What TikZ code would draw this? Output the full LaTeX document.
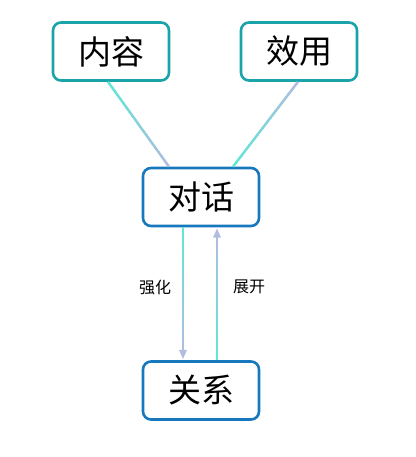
\documentclass[tikz,border=0pt]{standalone}
\usepackage{fontspec}
\setmainfont{Noto Sans CJK SC}
\usetikzlibrary{calc,arrows.meta}
\definecolor{turq}{HTML}{5EE8D6}
\definecolor{lav}{HTML}{B0BCE0}
\definecolor{tealb}{HTML}{1AA3A8}
\definecolor{blueb}{HTML}{1878BE}
\tikzset{
  box/.style={draw, line width=2.6pt, rounded corners=8pt, fill=white, minimum width=116pt, minimum height=58pt, inner sep=0pt, font=\fontsize{33}{35}\selectfont},
  topbox/.style={box, draw=tealb},
  midbox/.style={box, draw=blueb},
  lbl/.style={font=\fontsize{16}{18}\selectfont, text=black},
}
\newcommand{\gradline}[2]{%
  \foreach \i in {0,...,39}{%
    \pgfmathsetmacro{\ta}{\i/40}%
    \pgfmathsetmacro{\tb}{(\i+1.3)/40 > 1 ? 1 : (\i+1.3)/40}%
    \pgfmathsetmacro{\pc}{100-\i*100/39}%
    \draw[line width=2.4pt, color=turq!\pc!lav, line cap=butt] ($(#1)!\ta!(#2)$) -- ($(#1)!\tb!(#2)$);
  }%
}
\begin{document}
\begin{tikzpicture}[x=1pt,y=-1pt]
\useasboundingbox (0,0) rectangle (415,457);
\node[topbox] (nr) at (111,51.5) {内容};
\node[topbox] (xy) at (299,51.5) {效用};
\node[midbox] (dh) at (201,197) {对话};
\node[midbox] (gx) at (201,390.5) {关系};
% connectors
\coordinate (a1) at ($(nr.south)+(-3,0)$);
\coordinate (a2) at ($(dh.north)+(-32,0)$);
\gradline{a1}{a2}
\coordinate (b1) at ($(dh.north)+(32,0)$);
\coordinate (b2) at ($(xy.south)+(-1,0)$);
\gradline{b1}{b2}
\coordinate (c1) at ($(dh.south)+(-18,0)$);
\coordinate (c2) at ($(gx.north)+(-18,-9)$);
\gradline{c1}{c2}
\draw[draw=none, fill=lav] ($(gx.north)+(-18,-1.3)$) -- ++(-4,-9) -- ++(8,0) -- cycle;
\coordinate (d1) at ($(gx.north)+(16,0)$);
\coordinate (d2) at ($(dh.south)+(16,9)$);
\gradline{d1}{d2}
\draw[draw=none, fill=lav] ($(dh.south)+(16,1.3)$) -- ++(-4,9) -- ++(8,0) -- cycle;
\node[lbl] (l1) at (155,287) {强化};
\node[lbl] (l2) at (249,287) {展开};
\end{tikzpicture}
\end{document}
